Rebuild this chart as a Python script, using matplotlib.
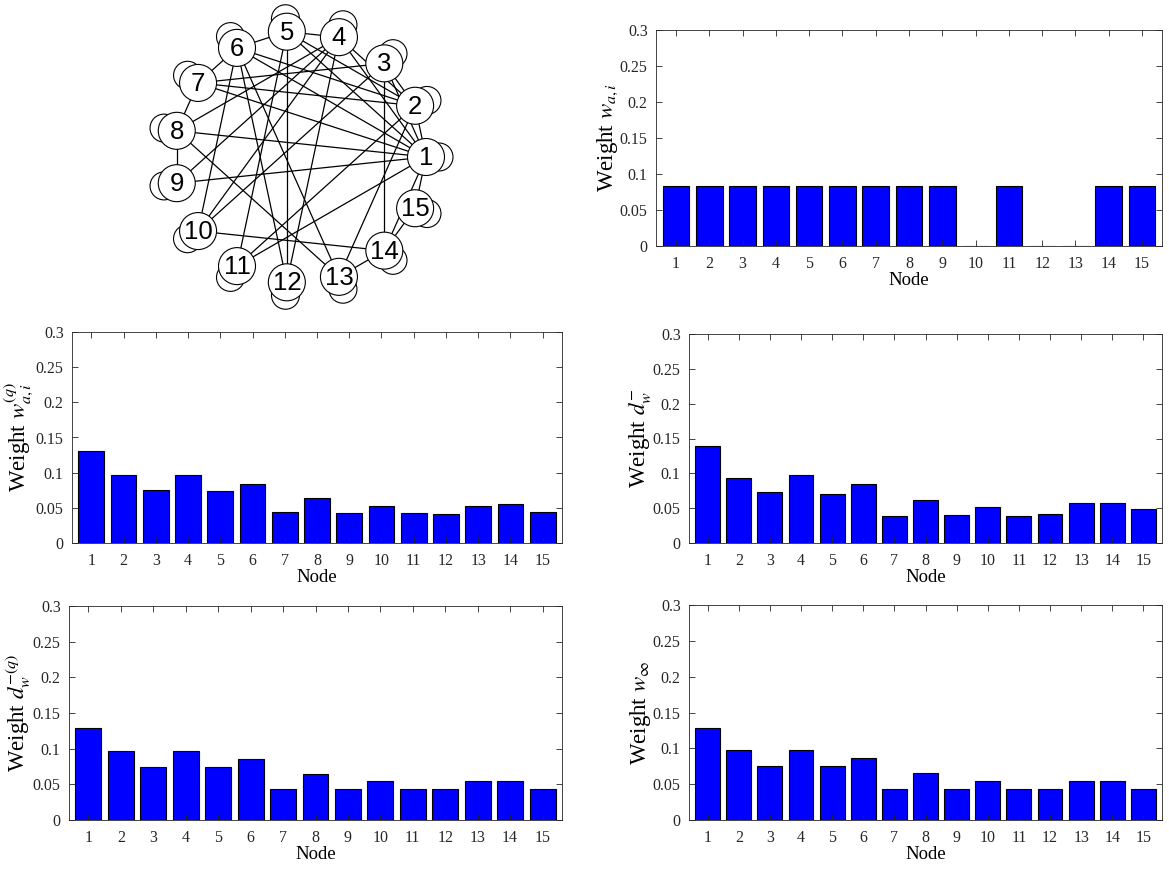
import numpy as np
import matplotlib.pyplot as plt
from matplotlib.patches import Circle

plt.rcParams['font.family'] = 'Liberation Serif'
plt.rcParams['mathtext.fontset'] = 'stix'

# network: 15 nodes on a ring, undirected edges
node_labels = [str(k) for k in range(1, 16)]
edges = [
    (1, 2), (1, 3), (1, 4), (1, 5), (1, 6), (1, 7), (1, 8), (1, 9), (1, 11), (1, 14), (1, 15),
    (2, 3), (2, 4), (2, 5), (2, 6), (2, 7), (2, 11), (2, 13),
    (3, 7), (3, 10), (3, 14),
    (4, 5), (4, 8), (4, 9), (4, 10), (4, 12),
    (5, 6), (5, 11), (5, 12),
    (6, 7), (6, 10), (6, 12), (6, 13),
    (7, 8), (8, 9), (8, 13),
    (10, 14), (13, 14), (14, 15),
]

nodes = np.arange(1, 16)
w_ai = [1/12, 1/12, 1/12, 1/12, 1/12, 1/12, 1/12, 1/12, 1/12, 0, 1/12, 0, 0, 1/12, 1/12]
w_ai_q = [0.131, 0.097, 0.076, 0.096, 0.074, 0.084, 0.044, 0.064, 0.043, 0.053, 0.043, 0.041, 0.053, 0.055, 0.044]
d_w = [0.139, 0.094, 0.073, 0.097, 0.071, 0.085, 0.039, 0.062, 0.040, 0.052, 0.039, 0.042, 0.057, 0.058, 0.049]
d_w_q = [0.129, 0.097, 0.075, 0.097, 0.075, 0.086, 0.043, 0.065, 0.043, 0.054, 0.043, 0.043, 0.054, 0.054, 0.044]
w_inf = [0.129, 0.097, 0.075, 0.097, 0.075, 0.086, 0.043, 0.065, 0.043, 0.054, 0.043, 0.043, 0.054, 0.054, 0.043]

W, H = 1169, 871
fig = plt.figure(figsize=(W / 100, H / 100), dpi=100)


def px_axes(left, top, right, bottom):
    return fig.add_axes([left / W, 1 - bottom / H, (right - left) / W, (bottom - top) / H])


# ---- graph drawing (pixel-like coordinates, y down)
gx = px_axes(140, 0, 470, 320)
gx.set_xlim(140, 470)
gx.set_ylim(320, 0)
gx.set_aspect('equal')
gx.axis('off')

cx, cy, R = 300, 157, 126
ang = np.deg2rad(24 * (nodes - 1))
xs = cx + R * np.cos(ang)
ys = cy - R * np.sin(ang)

for a, b in edges:
    gx.plot([xs[a - 1], xs[b - 1]], [ys[a - 1], ys[b - 1]], color='k', lw=0.9, zorder=1)

r_node, r_loop, off = 18.5, 14, 13
for i in range(15):
    sx = xs[i] + off * np.cos(ang[i])
    sy = ys[i] - off * np.sin(ang[i])
    gx.add_patch(Circle((sx, sy), r_loop, fc='white', ec='k', lw=0.8, zorder=2))
for i in range(15):
    gx.add_patch(Circle((xs[i], ys[i]), r_node, fc='white', ec='k', lw=0.8, zorder=3))
    gx.text(xs[i], ys[i] + 1, node_labels[i], ha='center', va='center', fontsize=18.5,
            family='Liberation Sans', zorder=4)


# ---- bar charts
def bar_panel(ax, vals, ylabel):
    ax.bar(nodes, vals, width=0.8, color='#0000ff', edgecolor='k', linewidth=0.8)
    ax.set_xlim(0.4, 15.6)
    ax.set_ylim(0, 0.3)
    ax.set_xticks(nodes)
    ax.set_xticklabels(node_labels)
    ax.set_yticks([0, 0.05, 0.1, 0.15, 0.2, 0.25, 0.3])
    ax.set_yticklabels(['0', '0.05', '0.1', '0.15', '0.2', '0.25', '0.3'])
    ax.tick_params(direction='in', top=True, right=True, length=4, width=0.6,
                   labelsize=11.5, colors='#262626')
    ax.tick_params(axis='x', pad=7)
    ax.tick_params(axis='y', pad=6)
    for s in ax.spines.values():
        s.set_linewidth(0.6)
        s.set_color('#262626')
    ax.set_xlabel('Node', fontsize=13.5, labelpad=0)
    ax.set_ylabel(ylabel, fontsize=16.5, labelpad=0)


bar_panel(px_axes(656, 30, 1162, 246), w_ai, 'Weight $w_{a,i}$')
bar_panel(px_axes(72, 332, 562, 543), w_ai_q, 'Weight $w_{a,i}^{(q)}$')
bar_panel(px_axes(689, 334, 1162, 543), d_w, 'Weight $d_w^{-}$')
bar_panel(px_axes(69, 606, 562, 820), d_w_q, 'Weight $d_w^{-(q)}$')
bar_panel(px_axes(689, 605, 1162, 820), w_inf, 'Weight $w_\\infty$')

fig.savefig('out.png', dpi=100)
